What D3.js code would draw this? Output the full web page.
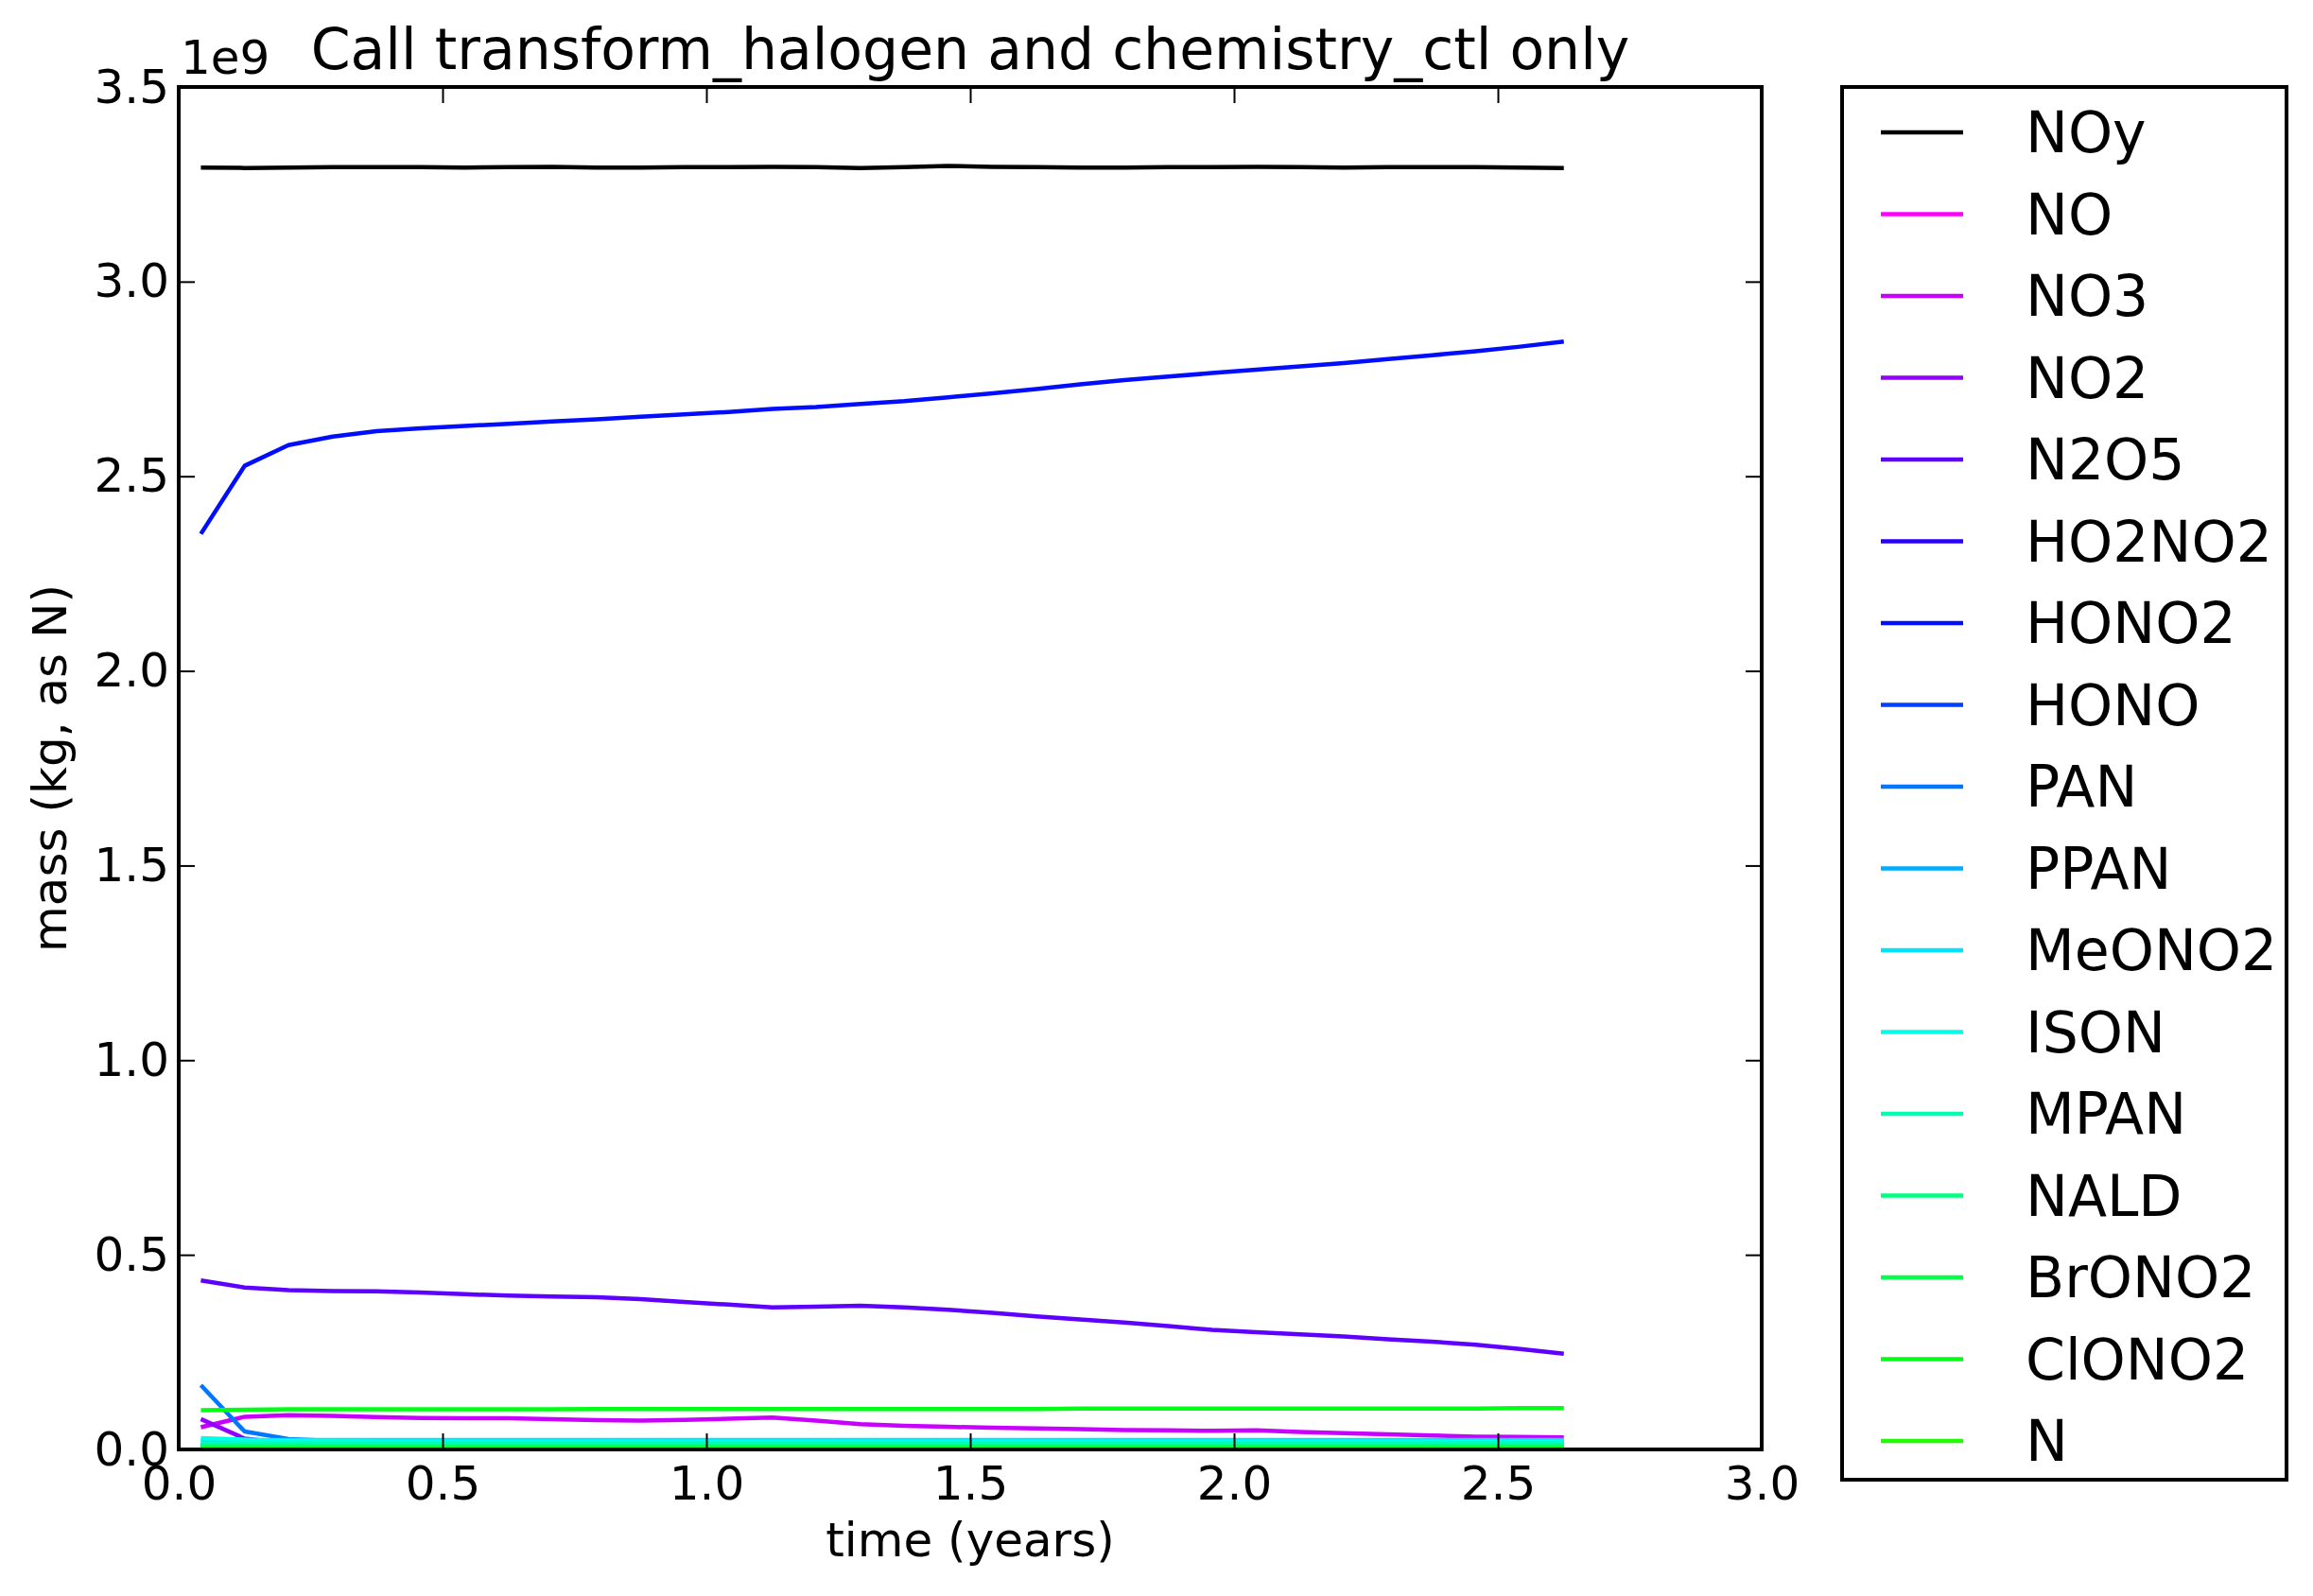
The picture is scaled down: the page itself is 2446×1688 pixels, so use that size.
<!DOCTYPE html>
<html>
<head>
<meta charset="utf-8">
<script src="https://cdn.jsdelivr.net/npm/d3@7"></script>
<style>
  html, body { margin: 0; padding: 0; background: #ffffff; }
  text { font-family: "DejaVu Sans", sans-serif; fill: #000; }
</style>
</head>
<body>
<script>
// ---- data (values in units of 1e9 kg, as N) ----
const title = "Call transform_halogen and chemistry_ctl only";
const xLabel = "time (years)";
const yLabel = "mass (kg, as N)";
const offsetText = "1e9";

const time = [0.042, 0.125, 0.208, 0.292, 0.375, 0.458, 0.542, 0.625, 0.708, 0.792, 0.875, 0.958,
              1.042, 1.125, 1.208, 1.292, 1.375, 1.458, 1.542, 1.625, 1.708, 1.792, 1.875, 1.958,
              2.042, 2.125, 2.208, 2.292, 2.375, 2.458, 2.542, 2.625];

const seriesNames = ["NOy", "NO", "NO3", "NO2", "N2O5", "HO2NO2", "HONO2", "HONO", "PAN", "PPAN",
                     "MeONO2", "ISON", "MPAN", "NALD", "BrONO2", "ClONO2", "N"];

const NOy = [3.293,3.292,3.293,3.294,3.294,3.294,3.293,3.294,3.295,3.293,3.293,3.294,3.294,3.295,3.294,3.292,
             3.294,3.297,3.295,3.294,3.293,3.293,3.294,3.294,3.295,3.294,3.293,3.294,3.294,3.294,3.293,3.292];
const NO = [0.003,0.002,0.002,0.002,0.002,0.002,0.002,0.002,0.002,0.002,0.002,0.002,0.002,0.002,0.002,0.002,
            0.002,0.002,0.002,0.002,0.002,0.002,0.002,0.002,0.002,0.002,0.002,0.002,0.002,0.002,0.002,0.002];
const NO3 = [0.057,0.084,0.088,0.086,0.083,0.081,0.080,0.080,0.078,0.075,0.074,0.076,0.079,0.082,0.074,0.065,
             0.061,0.058,0.056,0.054,0.052,0.050,0.049,0.048,0.049,0.045,0.042,0.039,0.036,0.033,0.032,0.031];
const NO2 = [0.078,0.028,0.015,0.012,0.011,0.010,0.010,0.010,0.010,0.010,0.010,0.010,0.010,0.010,0.010,0.009,
             0.009,0.009,0.009,0.009,0.009,0.009,0.009,0.009,0.009,0.009,0.009,0.009,0.009,0.009,0.009,0.009];
const N2O5 = [0.434,0.416,0.409,0.407,0.406,0.403,0.399,0.395,0.393,0.391,0.386,0.379,0.372,0.365,0.367,0.369,
              0.365,0.359,0.351,0.342,0.334,0.326,0.317,0.307,0.301,0.296,0.290,0.283,0.277,0.269,0.258,0.246];
const HO2NO2 = [0.004,0.003,0.003,0.003,0.003,0.003,0.003,0.003,0.003,0.003,0.003,0.003,0.003,0.003,0.003,0.003,
                0.003,0.003,0.003,0.003,0.003,0.003,0.003,0.003,0.003,0.003,0.003,0.003,0.003,0.003,0.003,0.003];
const HONO2 = [2.352,2.527,2.580,2.602,2.616,2.623,2.629,2.635,2.641,2.646,2.653,2.659,2.665,2.673,2.678,2.686,
               2.693,2.703,2.713,2.724,2.736,2.747,2.756,2.765,2.774,2.782,2.791,2.801,2.811,2.821,2.833,2.846];
const HONO = [0.012,0.007,0.005,0.004,0.004,0.004,0.004,0.004,0.004,0.004,0.004,0.004,0.004,0.004,0.004,0.004,
              0.004,0.004,0.004,0.004,0.004,0.004,0.004,0.004,0.004,0.004,0.004,0.004,0.004,0.004,0.004,0.004];
const PAN = [0.165,0.046,0.027,0.022,0.020,0.019,0.019,0.019,0.019,0.019,0.019,0.019,0.019,0.019,0.019,0.019,
             0.019,0.019,0.019,0.019,0.019,0.019,0.019,0.019,0.019,0.019,0.019,0.019,0.019,0.019,0.019,0.019];
const PPAN = [0.005,0.004,0.004,0.004,0.004,0.004,0.004,0.004,0.004,0.004,0.004,0.004,0.004,0.004,0.004,0.004,
              0.004,0.004,0.004,0.004,0.004,0.004,0.004,0.004,0.004,0.004,0.004,0.004,0.004,0.004,0.004,0.004];
const MeONO2 = [0.024,0.024,0.024,0.024,0.024,0.024,0.024,0.024,0.024,0.024,0.024,0.024,0.024,0.024,0.024,0.024,
                0.024,0.024,0.024,0.024,0.024,0.024,0.024,0.024,0.024,0.024,0.024,0.024,0.024,0.024,0.024,0.024];
const ISON = [0.029,0.025,0.022,0.021,0.020,0.020,0.020,0.020,0.020,0.020,0.020,0.020,0.020,0.020,0.020,0.020,
              0.020,0.020,0.020,0.020,0.020,0.020,0.020,0.020,0.020,0.020,0.020,0.020,0.020,0.020,0.020,0.020];
const MPAN = [0.015,0.015,0.015,0.015,0.015,0.015,0.015,0.015,0.015,0.015,0.015,0.015,0.015,0.015,0.015,0.015,
              0.015,0.015,0.015,0.015,0.015,0.015,0.015,0.015,0.015,0.015,0.015,0.015,0.015,0.015,0.015,0.015];
const NALD = [0.009,0.009,0.009,0.009,0.009,0.009,0.009,0.009,0.009,0.009,0.009,0.009,0.009,0.009,0.009,0.009,
              0.009,0.009,0.009,0.009,0.009,0.009,0.009,0.009,0.009,0.009,0.009,0.009,0.009,0.009,0.009,0.009];
const BrONO2 = [0.005,0.005,0.005,0.005,0.005,0.005,0.005,0.005,0.005,0.005,0.005,0.005,0.005,0.005,0.005,0.005,
                0.005,0.005,0.005,0.005,0.005,0.005,0.005,0.005,0.005,0.005,0.005,0.005,0.005,0.005,0.005,0.005];
const ClONO2 = [0.101,0.102,0.103,0.103,0.103,0.103,0.103,0.103,0.103,0.104,0.104,0.104,0.104,0.104,0.104,0.104,
                0.104,0.104,0.104,0.104,0.105,0.105,0.105,0.105,0.105,0.105,0.105,0.105,0.105,0.105,0.106,0.106];
const N = [0.001,0.001,0.001,0.001,0.001,0.001,0.001,0.001,0.001,0.001,0.001,0.001,0.001,0.001,0.001,0.001,
           0.001,0.001,0.001,0.001,0.001,0.001,0.001,0.001,0.001,0.001,0.001,0.001,0.001,0.001,0.001,0.001];

const seriesValues = [NOy, NO, NO3, NO2, N2O5, HO2NO2, HONO2, HONO, PAN, PPAN,
                      MeONO2, ISON, MPAN, NALD, BrONO2, ClONO2, N];
const seriesColors = ["#000000", "#ff00ff", "#ca00ff", "#9400ff", "#5e00ff", "#2900ff", "#000dff", "#0041ff",
                      "#0077ff", "#00acff", "#00e2ff", "#00ffe8", "#00ffb2", "#00ff7e", "#00ff49", "#00ff14", "#20ff00"];

const xTicks = [0.0, 0.5, 1.0, 1.5, 2.0, 2.5, 3.0];
const yTicks = [0.0, 0.5, 1.0, 1.5, 2.0, 2.5, 3.0, 3.5];

// ---- layout ----
const W = 2446, H = 1688;
const plot = {left: 189, right: 1863, top: 92, bottom: 1533};
const lw = 4.5;
const spineW = 4;

const svg = d3.select("body").append("svg").attr("width", W).attr("height", H)
  .style("display", "block");
svg.append("rect").attr("width", W).attr("height", H).attr("fill", "#fff");

const x = d3.scaleLinear().domain([0, 3]).range([plot.left, plot.right]);
const y = d3.scaleLinear().domain([0, 3.5]).range([plot.bottom, plot.top]);

svg.append("clipPath").attr("id", "clip").append("rect")
  .attr("x", plot.left).attr("y", plot.top)
  .attr("width", plot.right - plot.left).attr("height", plot.bottom - plot.top);

// lines
const line = d3.line().x((d, i) => x(time[i])).y(d => y(d));
const lineG = svg.append("g").attr("clip-path", "url(#clip)");
seriesValues.forEach((vals, k) => {
  lineG.append("path").datum(vals).attr("d", line)
    .attr("fill", "none").attr("stroke", seriesColors[k])
    .attr("stroke-width", lw).attr("stroke-linejoin", "round").attr("stroke-linecap", "butt");
});

// ticks on all four sides, pointing inward
const tickLen = 17;
const fmt = d3.format(".1f");
const axB = d3.axisBottom(x).tickValues(xTicks).tickSizeInner(-tickLen).tickSizeOuter(0).tickPadding(17).tickFormat(fmt);
const axT = d3.axisTop(x).tickValues(xTicks).tickSizeInner(-tickLen).tickSizeOuter(0).tickFormat("");
const axL = d3.axisLeft(y).tickValues(yTicks).tickSizeInner(-tickLen).tickSizeOuter(0).tickPadding(10).tickFormat(fmt);
const axR = d3.axisRight(y).tickValues(yTicks).tickSizeInner(-tickLen).tickSizeOuter(0).tickFormat("");

function styleAxis(g) {
  g.select(".domain").remove();
  g.selectAll(".tick line").attr("stroke", "#000").attr("stroke-width", 2);
  g.selectAll(".tick text").attr("font-size", 50).attr("font-family", "DejaVu Sans").attr("fill", "#000");
}
svg.append("g").attr("transform", `translate(0,${plot.bottom})`).call(axB).call(styleAxis);
svg.append("g").attr("transform", `translate(0,${plot.top})`).call(axT).call(styleAxis);
svg.append("g").attr("transform", `translate(${plot.left},0)`).call(axL).call(styleAxis);
svg.append("g").attr("transform", `translate(${plot.right},0)`).call(axR).call(styleAxis);

// spines
svg.append("rect").attr("x", plot.left).attr("y", plot.top)
  .attr("width", plot.right - plot.left).attr("height", plot.bottom - plot.top)
  .attr("fill", "none").attr("stroke", "#000").attr("stroke-width", spineW);

// texts
svg.append("text").attr("x", (plot.left + plot.right) / 2).attr("y", 73)
  .attr("text-anchor", "middle").attr("font-size", 60).text(title);
svg.append("text").attr("x", plot.left + 2).attr("y", 78)
  .attr("font-size", 50).text(offsetText);
svg.append("text").attr("x", (plot.left + plot.right) / 2).attr("y", 1646)
  .attr("text-anchor", "middle").attr("font-size", 50).text(xLabel);
svg.append("text").attr("transform", `translate(70,${(plot.top + plot.bottom) / 2}) rotate(-90)`)
  .attr("text-anchor", "middle").attr("font-size", 50).text(yLabel);

// legend
const leg = {left: 1948, top: 92, right: 2418, bottom: 1565};
svg.append("rect").attr("x", leg.left).attr("y", leg.top)
  .attr("width", leg.right - leg.left).attr("height", leg.bottom - leg.top)
  .attr("fill", "#fff").attr("stroke", "#000").attr("stroke-width", spineW);
const legY = d3.scalePoint().domain(seriesNames).range([140, 1524]);
const legG = svg.append("g");
seriesNames.forEach((name, k) => {
  const yy = legY(name);
  legG.append("line").attr("x1", 1989).attr("x2", 2076).attr("y1", yy).attr("y2", yy)
    .attr("stroke", seriesColors[k]).attr("stroke-width", lw);
  legG.append("text").attr("x", 2142).attr("y", yy + 21)
    .attr("font-size", 60).text(name);
});
</script>
</body>
</html>
